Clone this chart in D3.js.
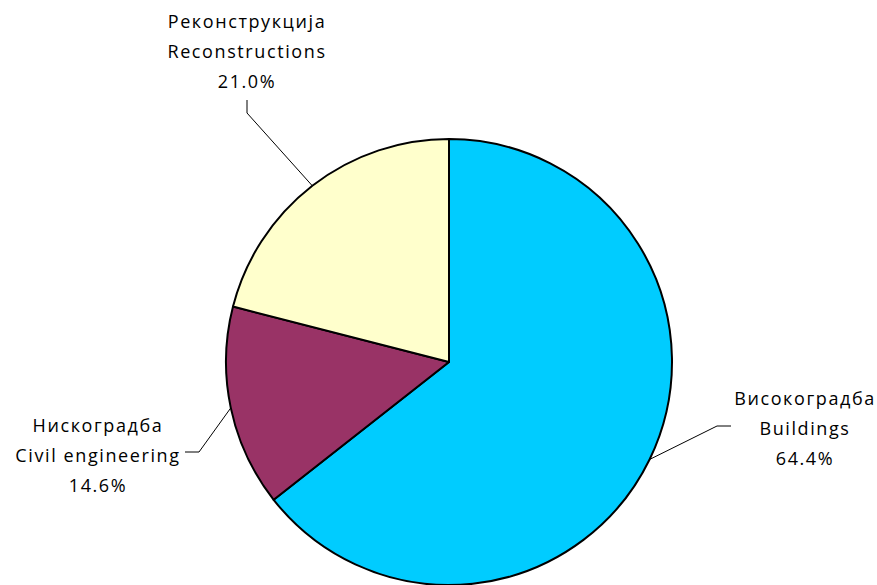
<!DOCTYPE html>
<html><head><meta charset="utf-8">
<script src="https://cdn.jsdelivr.net/npm/d3@7"></script>
<style>body{margin:0;background:#fff}svg{display:block}text{font-family:"Open Sans","Liberation Sans",sans-serif;font-size:18px;letter-spacing:1.6px;fill:#000}</style>
</head><body><svg width="877" height="585"></svg>
<script>
const namesSr = ["Високоградба", "Нискоградба", "Реконструкција"];
const namesEn = ["Buildings", "Civil engineering", "Reconstructions"];
const values = [64.4, 14.6, 21.0];
const colors = ["#00CCFF", "#993366", "#FFFFCC"];

const svg = d3.select("svg");
const cx = 449, cy = 362, r = 223;
const g = svg.append("g").attr("transform", `translate(${cx},${cy})`);
const pie = d3.pie().sort(null).value(d => d)(values);
const arc = d3.arc().innerRadius(0).outerRadius(r);
g.selectAll("path").data(pie).join("path")
  .attr("d", arc).attr("fill", (d,i) => colors[i])
  .attr("stroke", "#000").attr("stroke-width", 2).attr("stroke-linejoin","round");

const labelPos = [
  {x: 805, y: 405, elbow: [[717,426],[731,426]]},
  {x: 98, y: 432, elbow: [[199,452],[185,452]]},
  {x: 247, y: 28, elbow: [[247,113],[247,100]]}
];
pie.forEach((d,i) => {
  const a = (d.startAngle + d.endAngle)/2;
  const p0 = [cx + r*Math.sin(a), cy - r*Math.cos(a)];
  const pts = [p0, ...labelPos[i].elbow];
  svg.append("path").attr("d", d3.line()(pts)).attr("fill","none").attr("stroke","#000").attr("stroke-width",1);
  const t = svg.append("text").attr("text-anchor","middle");
  [namesSr[i], namesEn[i], d3.format(".1f")(values[i]) + "%"].forEach((s,j) => {
    t.append("tspan").attr("x", labelPos[i].x).attr("y", labelPos[i].y + j*30).text(s);
  });
});
</script></body></html>
